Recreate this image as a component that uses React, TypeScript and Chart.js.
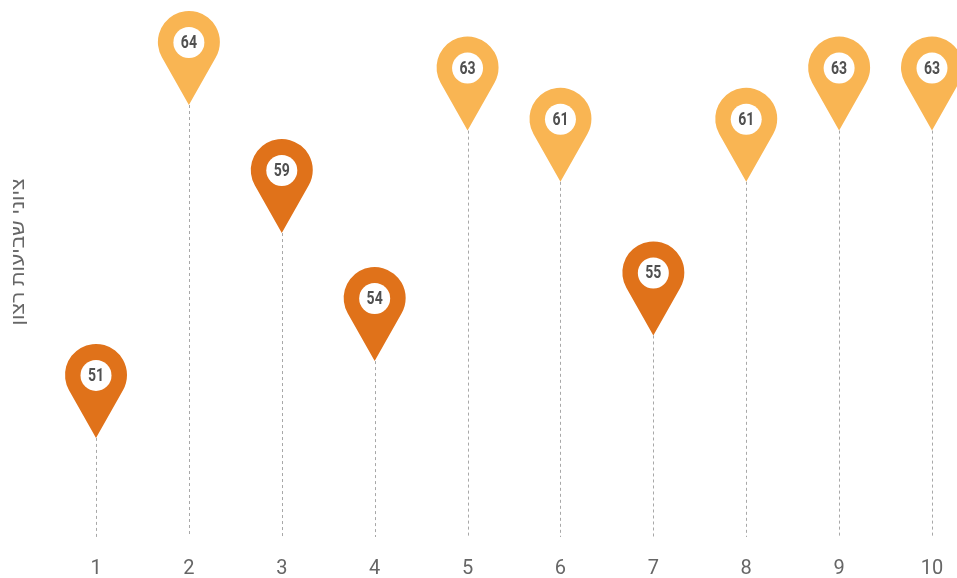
import React, { useEffect, useRef } from "react";
import { Chart, registerables } from "chart.js";

Chart.register(...registerables);

const categories = ["1", "2", "3", "4", "5", "6", "7", "8", "9", "10"];
const scores = [51, 64, 59, 54, 63, 61, 55, 61, 63, 63];
const yTitle = "ציוני שביעות רצון";

const DARK = "#E0721A";
const LIGHT = "#F9B553";
const FONT = "Roboto, 'Liberation Sans', 'DejaVu Sans', sans-serif";
const HEB_FONT = "'Liberation Sans', 'DejaVu Sans', sans-serif";

const pinPlugin = {
  id: "pins",
  beforeDatasetsDraw(chart: any) {
    const ctx = chart.ctx;
    const meta = chart.getDatasetMeta(0);
    const bottom = chart.chartArea.bottom;
    ctx.save();
    ctx.strokeStyle = "#a8a8a8";
    ctx.lineWidth = 1;
    ctx.setLineDash([3, 3]);
    meta.data.forEach((el: any) => {
      const x = Math.round(el.x) + 0.5;
      ctx.beginPath();
      ctx.moveTo(x, el.y);
      ctx.lineTo(x, bottom);
      ctx.stroke();
    });
    ctx.restore();
  },
  afterDatasetsDraw(chart: any) {
    const ctx = chart.ctx;
    const meta = chart.getDatasetMeta(0);
    const data = chart.data.datasets[0].data as number[];
    const R = 31;
    const D = 63;
    const theta = Math.acos(R / D);
    ctx.save();
    meta.data.forEach((el: any, i: number) => {
      const x = el.x;
      const tipY = el.y;
      const cy = tipY - D;
      const a1 = Math.PI / 2 + theta;
      const a2 = Math.PI / 2 - theta + Math.PI * 2;
      ctx.beginPath();
      ctx.moveTo(x, tipY);
      ctx.lineTo(x + R * Math.cos(a1), cy + R * Math.sin(a1));
      ctx.arc(x, cy, R, a1, a2, false);
      ctx.lineTo(x, tipY);
      ctx.closePath();
      ctx.fillStyle = data[i] < 60 ? DARK : LIGHT;
      ctx.fill();
      ctx.beginPath();
      ctx.arc(x, cy + 0.5, 15.5, 0, Math.PI * 2);
      ctx.fillStyle = "#ffffff";
      ctx.fill();
      ctx.save();
      ctx.translate(x, cy + 1.5);
      ctx.scale(0.78, 1);
      ctx.fillStyle = "#505050";
      ctx.font = "bold 18px " + FONT;
      ctx.textAlign = "center";
      ctx.textBaseline = "middle";
      ctx.fillText(String(data[i]), 0, 0);
      ctx.restore();
    });
    // y axis title
    ctx.translate(19, 252);
    ctx.rotate(-Math.PI / 2);
    ctx.fillStyle = "#666666";
    ctx.font = "18px " + HEB_FONT;
    const w = ctx.measureText(yTitle).width;
    ctx.scale(147 / w, 1);
    ctx.textAlign = "center";
    ctx.textBaseline = "middle";
    ctx.fillText(yTitle, 0, 0);
    ctx.restore();
  },
};

export default function App() {
  const ref = useRef<HTMLCanvasElement>(null);
  useEffect(() => {
    document.body.style.margin = "0";
    const chart = new Chart(ref.current as HTMLCanvasElement, {
      type: "line",
      data: {
        labels: categories,
        datasets: [
          {
            data: scores,
            showLine: false,
            pointRadius: 0,
            pointHoverRadius: 0,
            clip: false as any,
          },
        ],
      },
      options: {
        animation: false,
        responsive: false,
        maintainAspectRatio: false,
        layout: { padding: { left: 96, right: 25, top: 0, bottom: 0 } },
        plugins: { legend: { display: false }, tooltip: { enabled: false } },
        scales: {
          x: {
            offset: false,
            grid: { display: false, drawTicks: false },
            border: { display: false },
            ticks: {
              color: "#666666",
              font: { family: FONT, size: 20, weight: "normal" as any },
              padding: 20,
              maxRotation: 0,
            },
            afterFit: (axis: any) => {
              axis.height = 41;
              axis.paddingLeft = 0;
              axis.paddingRight = 0;
            },
          },
          y: {
            display: false,
            min: 47.13,
            max: 68.1,
          },
        },
      },
      plugins: [pinPlugin],
    });
    return () => chart.destroy();
  }, []);
  return <canvas ref={ref} width={957} height={578} style={{ display: "block" }} />;
}
